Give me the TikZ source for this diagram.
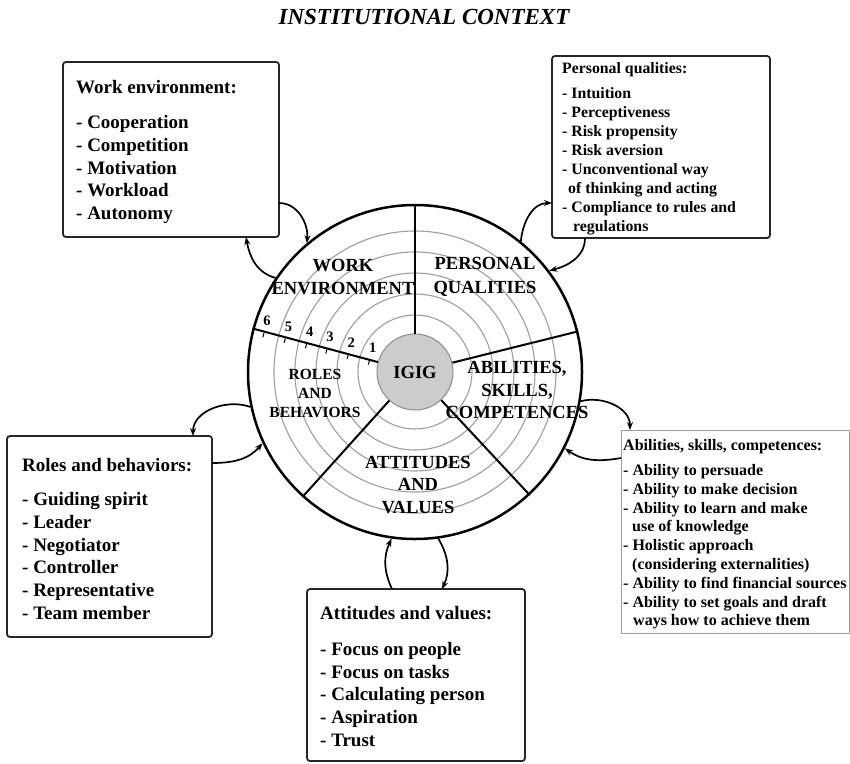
\documentclass[tikz,border=0pt]{standalone}
\usepackage{fontspec}
\setmainfont{Liberation Serif}
\usetikzlibrary{arrows.meta,calc}
\begin{document}
\begin{tikzpicture}[x=1pt,y=-1pt,
  wbox/.style={draw=black!85, line width=1.8pt, rounded corners=3pt, inner sep=0pt, outer sep=0pt, anchor=north west},
  gbox/.style={draw=black!40, line width=1pt, inner sep=0pt, outer sep=0pt, anchor=north west},
  bigtxt/.style={font=\bfseries\fontsize{19}{22.8}\selectfont, inner sep=0pt, anchor=base west},
  smltxt/.style={font=\bfseries\fontsize{15.8}{19}\selectfont, inner sep=0pt, anchor=base west},
  seclbl/.style={font=\bfseries\fontsize{18.5}{23.5}\selectfont, align=center, inner sep=0pt},
  cyc/.style={line width=1.7pt, -{Stealth[length=8pt,width=6pt]}},
  ringst/.style={circle, draw=black!38, line width=1.1pt, inner sep=0pt},
  divider/.style={line width=2pt},
  numlbl/.style={font=\bfseries\fontsize{14.5}{16}\selectfont, inner sep=0pt},
]
\useasboundingbox[fill=white] (0,0) rectangle (850,763);

% title
\node[font=\bfseries\itshape\fontsize{23}{27}\selectfont] (title) at (424,17) {INSTITUTIONAL CONTEXT};

% wheel
\foreach \r [count=\i] in {57,78,99,120,141}
  \node[ringst, minimum size={2*\r pt}] (ring\i) at (415,372) {};
\node[circle, draw, line width=2.5pt, minimum size=334pt, inner sep=0pt] (outer) at (415,372) {};
\node[circle, fill=black!20, draw=black!45, line width=1pt, minimum size=76pt, inner sep=0pt,
      font=\bfseries\fontsize{18.5}{22}\selectfont] (igig) at (415,372) {IGIG};
\foreach \a in {90,14.5,-47.5,-132,165.5}
  \draw[divider] (igig.\a) -- (outer.\a);

\foreach \i/\r in {1/47,2/69,3/91,4/112,5/134,6/156} {
  \draw[line width=1pt] ($(igig.center)+(165.5:\r pt)$) -- ++(255.5:4.5pt);
  \node[numlbl] (n\i) at ($(igig.center)+(165.5:\r pt)+(75.5:12.5pt)$) {\i};
}

\node[seclbl] (lwe) at (343,277) {WORK\\ENVIRONMENT};
\node[seclbl] (lpq) at (485,277) {PERSONAL\\QUALITIES};
\node[seclbl, font=\bfseries\fontsize{15.5}{19}\selectfont] (lrb) at (315,393) {ROLES\\AND\\BEHAVIORS};
\node[seclbl, font=\bfseries\fontsize{18.5}{22.5}\selectfont] (lasc) at (517,390) {ABILITIES,\\SKILLS,\\COMPETENCES};
\node[seclbl, font=\bfseries\fontsize{18.5}{22.5}\selectfont] (lav) at (418,485) {ATTITUDES\\AND\\VALUES};

% boxes
\node[wbox, minimum width=216pt, minimum height=175pt] (we) at (63,62) {};
\node[wbox, minimum width=218pt, minimum height=182pt] (pq) at (552,56) {};
\node[wbox, minimum width=205pt, minimum height=201pt] (rb) at (7,436) {};
\node[gbox, minimum width=228pt, minimum height=203pt] (asc) at (621,430) {};
\node[wbox, minimum width=218pt, minimum height=172pt] (av) at (307,589) {};

% work environment text
\node[bigtxt] (we-t) at (76,93.5) {Work environment:};
\foreach \t [count=\i] in {Cooperation,Competition,Motivation,Workload,Autonomy}
  \node[bigtxt] (we-\i) at (76,{128.5+(\i-1)*22.8}) {- \t};

% personal qualities text
\node[smltxt] (pq-t) at (562,73.5) {Personal qualities:};
\foreach \x/\t [count=\i] in {562/{- Intuition},562/{- Perceptiveness},562/{- Risk propensity},562/{- Risk aversion},562/{- Unconventional way},568/{of thinking and acting},562/{- Compliance to rules and},573/{regulations}}
  \node[smltxt] (pq-\i) at (\x,{98.5+(\i-1)*19}) {\t};

% roles text
\node[bigtxt] (rb-t) at (22,471.5) {Roles and behaviors:};
\foreach \t [count=\i] in {Guiding spirit,Leader,Negotiator,Controller,Representative,Team member}
  \node[bigtxt] (rb-\i) at (22,{505.5+(\i-1)*22.8}) {- \t};

% abilities text
\node[smltxt, font=\bfseries\fontsize{16}{19}\selectfont] (asc-t) at (623,450.5) {Abilities, skills, competences:};
\foreach \x/\t [count=\i] in {623/{- Ability to persuade},623/{- Ability to make decision},623/{- Ability to learn and make},632/{use of knowledge},623/{- Holistic approach},632/{(considering externalities)},623/{- Ability to find financial sources},623/{- Ability to set goals and draft},633/{ways how to achieve them}}
  \node[smltxt, font=\bfseries\fontsize{16}{19}\selectfont] (asc-\i) at (\x,{475.5+(\i-1)*18.8}) {\t};

% attitudes text
\node[bigtxt] (av-t) at (320,619.5) {Attitudes and values:};
\foreach \t [count=\i] in {Focus on people,Focus on tasks,Calculating person,Aspiration,Trust}
  \node[bigtxt] (av-\i) at (320,{655.5+(\i-1)*22.7}) {- \t};

% feedback arrows
\draw[cyc] ([yshift=34pt]we.south east) to[out=0,in=85] (outer.130);
\draw[cyc] (outer.146) to[out=165,in=-80] ([xshift=-33pt]we.south east);

\draw[cyc] (outer.51) to[out=85,in=180] ([yshift=-147pt]pq.north west);
\draw[cyc] ([xshift=33pt]pq.south west) to[out=-90,in=15] (outer.37);

\draw[cyc] (outer.192) to[out=160,in=90] ([xshift=186pt]rb.north west);
\draw[cyc] ([yshift=-27pt]rb.north east) to[out=0,in=-130] (outer.205);

\draw[cyc] (outer.-10) to[out=15,in=90] ([xshift=9pt]asc.north west);
\draw[cyc] ([yshift=-28pt]asc.north west) to[out=190,in=-35] (outer.-27);

\draw[cyc] ([xshift=85pt]av.north west) to[out=115,in=-115] (outer.-98.6);
\draw[cyc] (outer.-82) to[out=-60,in=65] ([xshift=135pt]av.north west);
\end{tikzpicture}
\end{document}
